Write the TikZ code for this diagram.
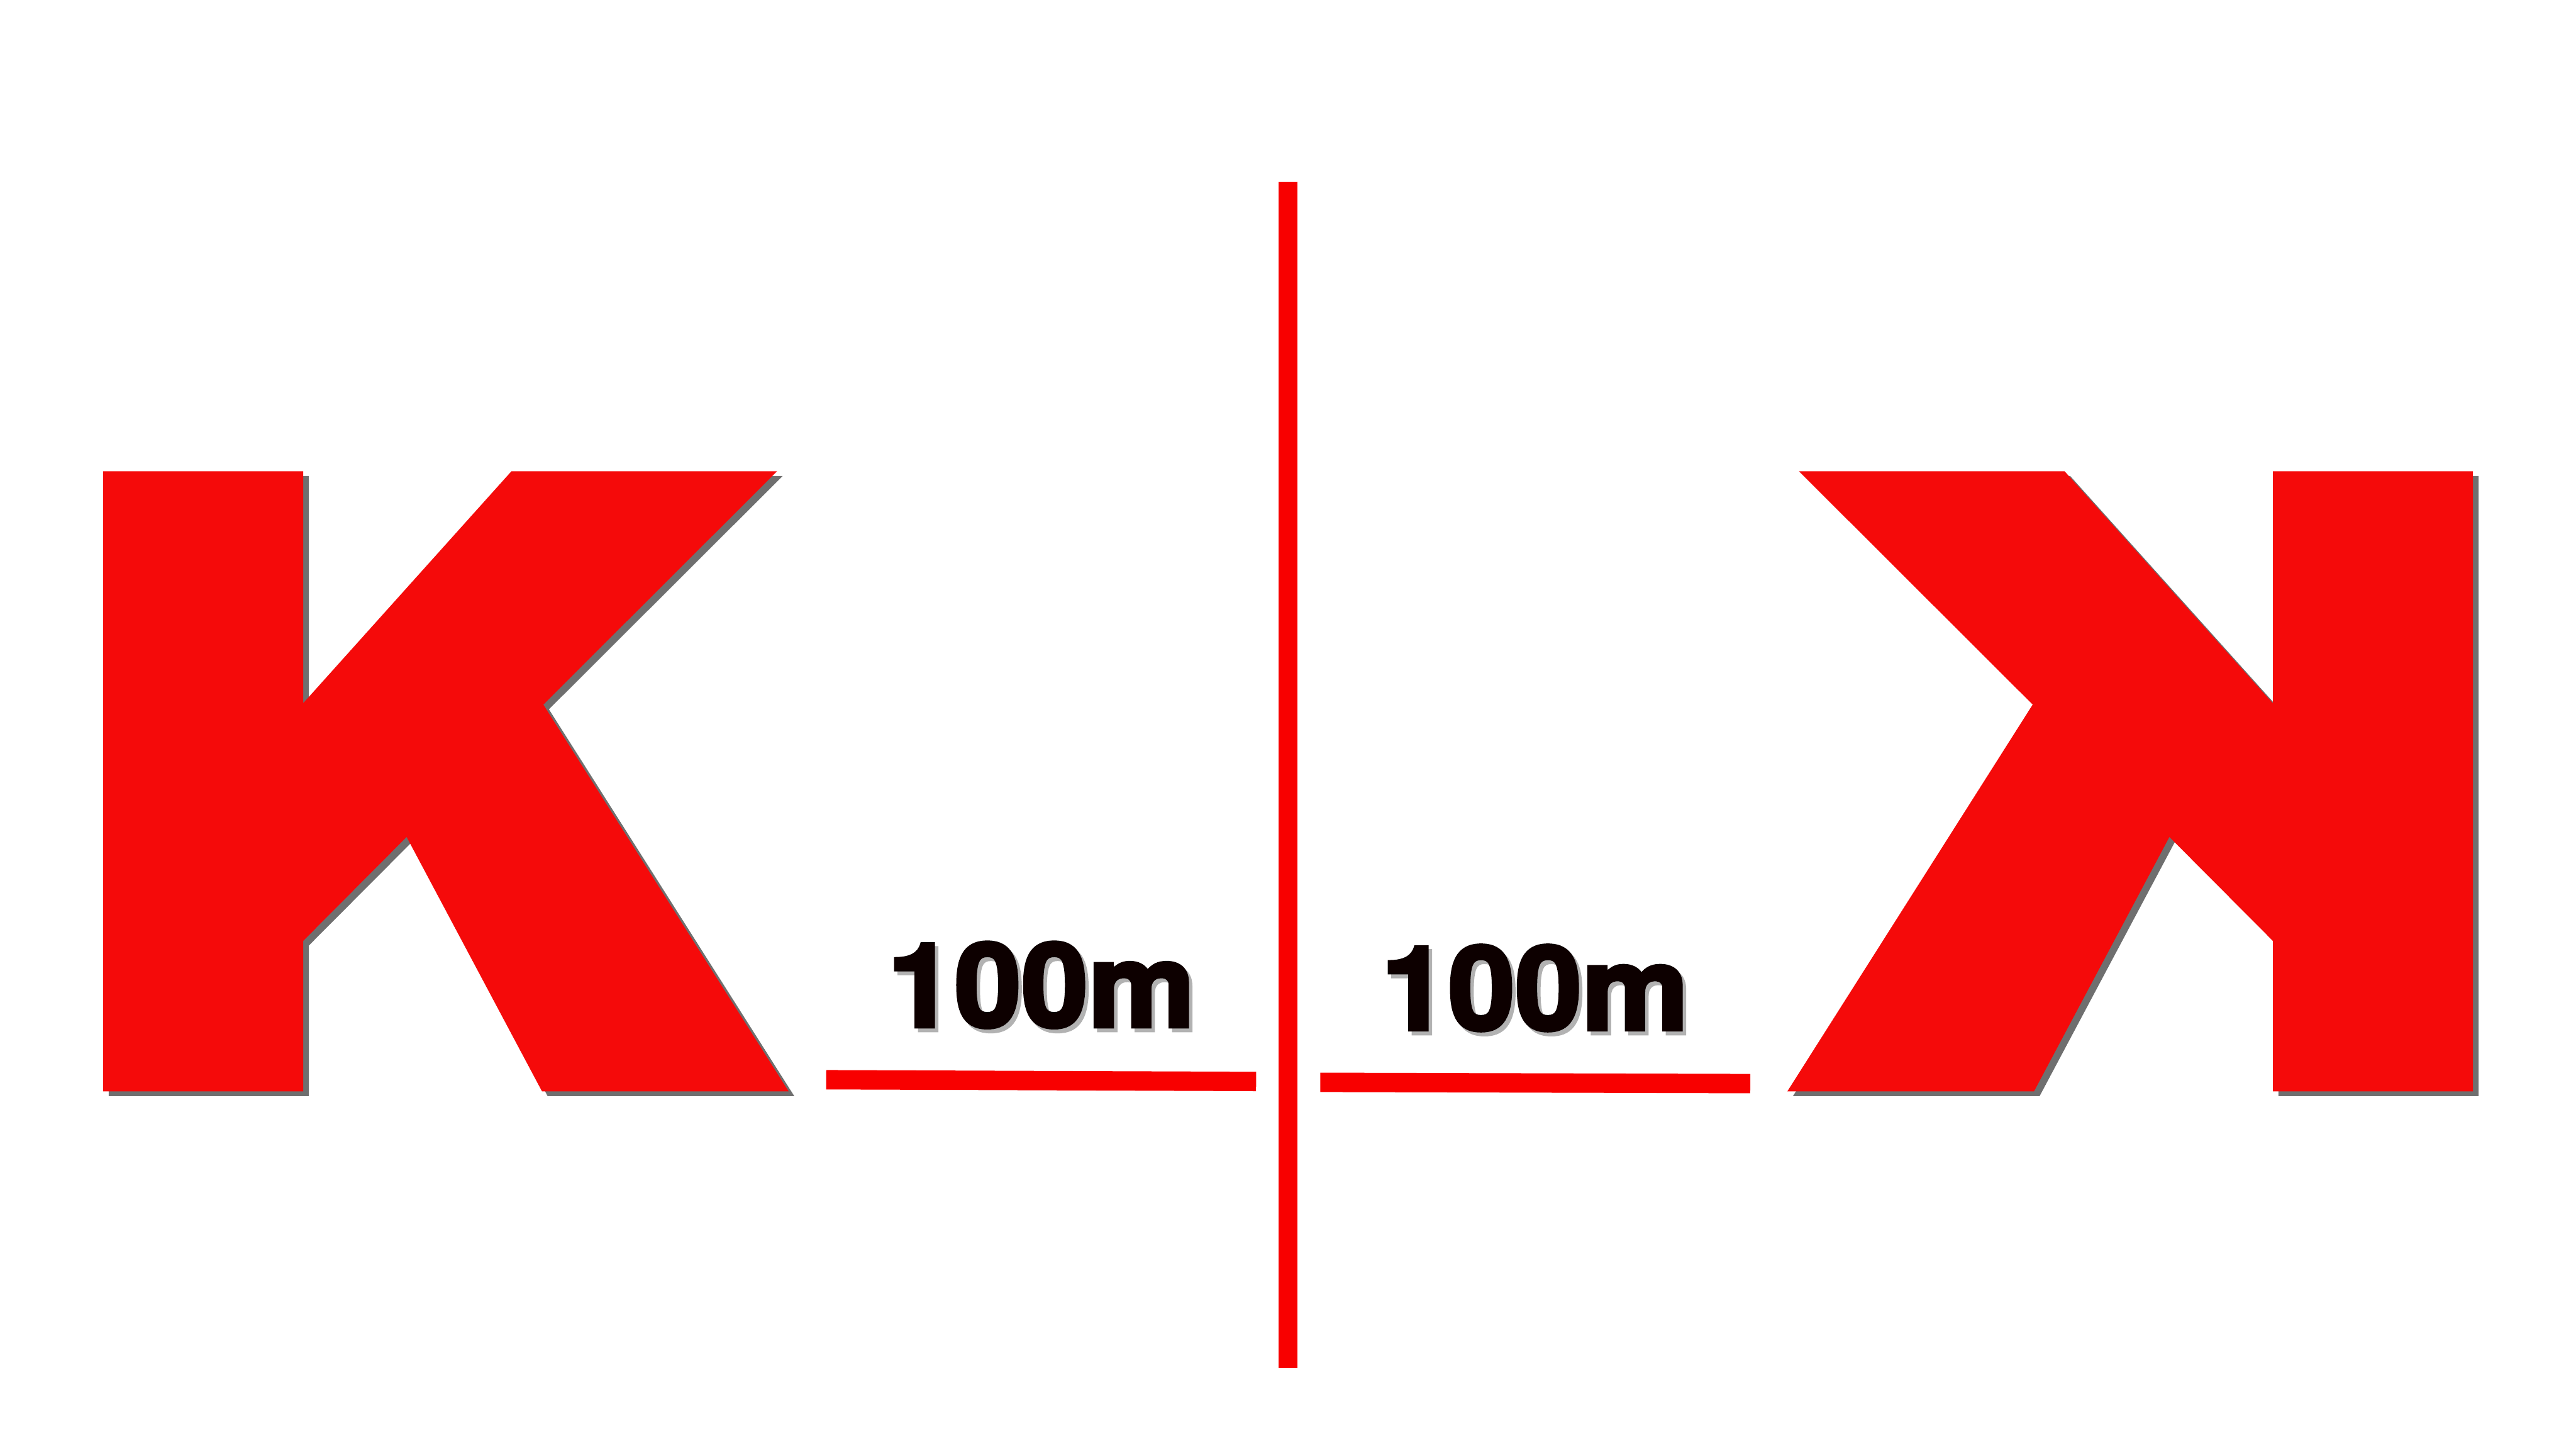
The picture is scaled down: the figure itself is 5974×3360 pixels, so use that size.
\documentclass[tikz,border=0pt]{standalone}
\usepackage{fontspec}
\newfontfamily\lblfont[FakeBold=3, FakeStretch=1.03]{TeX Gyre Heros}
\usetikzlibrary{shadows}
\definecolor{kred}{HTML}{F50A0A}
\definecolor{lred}{HTML}{F80000}
\definecolor{lblink}{HTML}{0D0000}
\begin{document}
\begin{tikzpicture}[
  x=0.1mm, y=-0.1mm,
  kshape/.style={fill=kred, drop shadow={shadow xshift=1.3mm, shadow yshift=-1.1mm, fill=black!75, opacity=0.75}},
  bar/.style={draw=lred, line width=4.5mm},
  lbl/.style={inner sep=0pt, anchor=base, font=\lblfont\bfseries\fontsize{77}{80}\selectfont, text=lblink},
  lblshadow/.style={lbl, text=black!30}
]
\useasboundingbox[fill=white] (0,0) rectangle (5974,3360);
% left K
\path[kshape] (239,1093) -- (703,1093) -- (703,1631) -- (1186,1093) -- (1802,1093) -- (1260,1634) -- (1829,2531) -- (1257,2531) -- (943,1941) -- (703,2182) -- (703,2531) -- (239,2531) -- cycle;
% right K, mirrored about the axis
\path[kshape] (5735,1093) -- (5271,1093) -- (5271,1631) -- (4788,1093) -- (4172,1093) -- (4714,1634) -- (4145,2531) -- (4717,2531) -- (5031,1941) -- (5271,2182) -- (5271,2531) -- (5735,2531) -- cycle;
% axis
\coordinate (axtop) at (2987,421);
\coordinate (axbot) at (2987,3172);
\draw[bar, line width=4.4mm] (axtop) -- (axbot);
% underlines
\coordinate (ulla) at (1916,2504);
\coordinate (ullb) at (2913,2508);
\coordinate (ulra) at (3062,2510);
\coordinate (ulrb) at (4059,2513);
\draw[bar] (ulla) -- (ullb);
\draw[bar] (ulra) -- (ulrb);
% labels
\node[lblshadow] (lblLsh) at (2423,2390) {100m};
\node[lbl] (lblL) at (2415,2381) {100m};
\node[lblshadow] (lblRsh) at (3568,2397) {100m};
\node[lbl] (lblR) at (3560,2388) {100m};
\end{tikzpicture}
\end{document}
